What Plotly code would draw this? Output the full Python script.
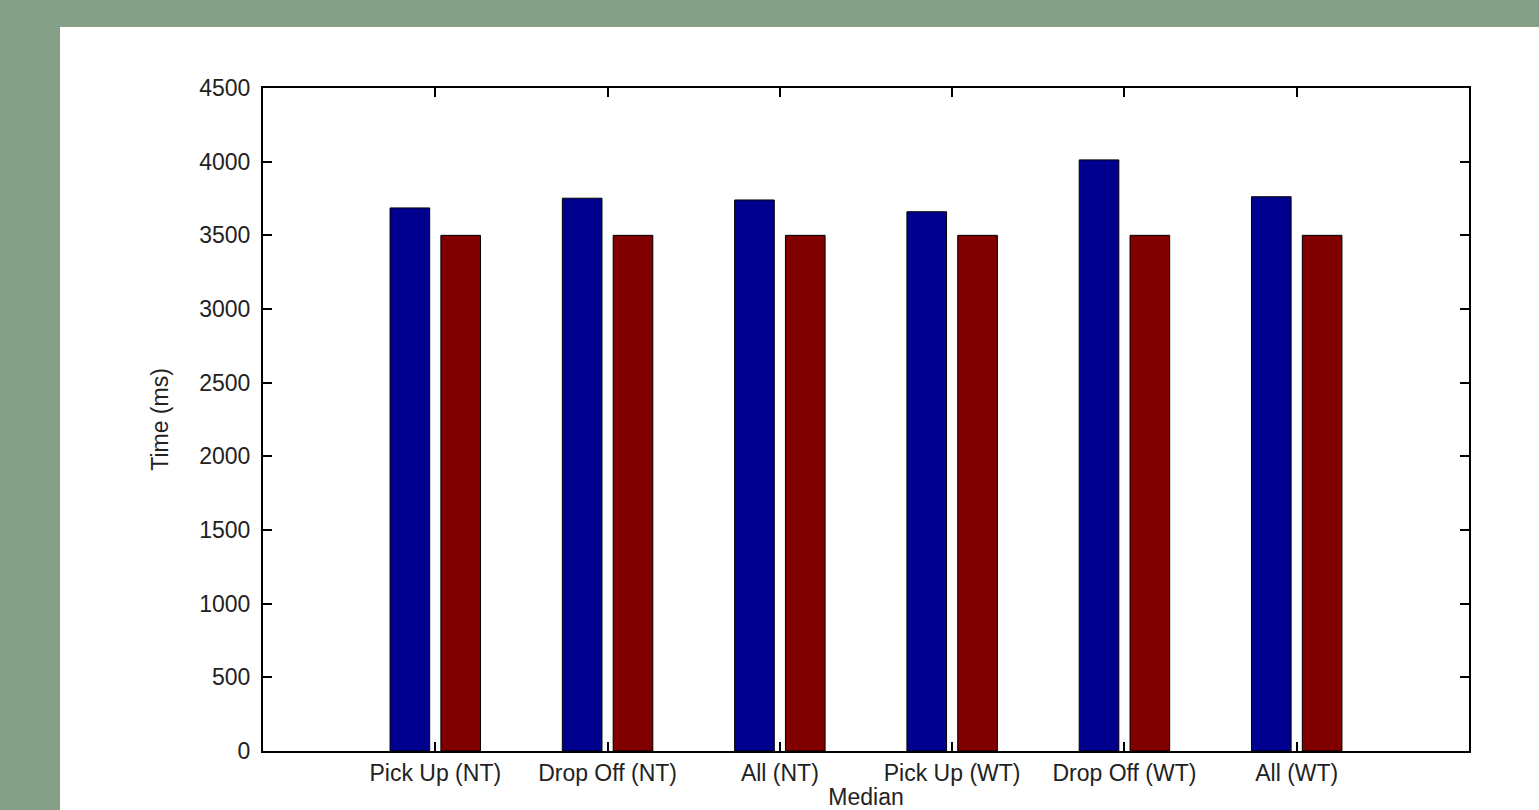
import plotly.graph_objects as go

categories = ["Pick Up (NT)", "Drop Off (NT)", "All (NT)", "Pick Up (WT)", "Drop Off (WT)", "All (WT)"]
positions = [1, 2, 3, 4, 5, 6]
series_blue = [3686, 3752, 3740, 3660, 4012, 3762]
series_red = [3500, 3500, 3500, 3500, 3500, 3500]
y_ticks = [0, 500, 1000, 1500, 2000, 2500, 3000, 3500, 4000, 4500]

FONT = "Liberation Sans, Arial, sans-serif"
W, H = 1539, 810
L, R, T, B = 263, 70, 88, 59
pw, ph = W - L - R, H - T - B

fig = go.Figure()
fig.add_trace(go.Bar(x=positions, y=series_blue, marker=dict(color="#00008f", line=dict(color="#000000", width=1)), showlegend=False))
fig.add_trace(go.Bar(x=positions, y=series_red, marker=dict(color="#800000", line=dict(color="#000000", width=1)), showlegend=False))

# white panel behind the chart
fig.add_shape(type="rect", xref="paper", yref="paper",
              x0=(60 - L) / pw, x1=(W + 10 - L) / pw,
              y0=-(B + 20) / ph, y1=(H - B - 27) / ph,
              fillcolor="white", line=dict(width=0), layer="below")

fig.update_layout(
    width=W, height=H,
    margin=dict(l=L, r=R, t=T, b=B, pad=0),
    paper_bgcolor="#86a087",
    plot_bgcolor="white",
    barmode="group", bargap=0.41, bargroupgap=0.22,
    font=dict(family=FONT, size=23, color="#222222"),
    xaxis=dict(
        range=[0, 7], tickmode="array", tickvals=positions, ticktext=categories,
        showline=True, linecolor="#000000", linewidth=2, mirror="ticks",
        ticks="inside", ticklen=9, tickwidth=1.5, tickcolor="#000000",
        showgrid=False, zeroline=False, automargin=False,
        title=dict(text="Median", standoff=2, font=dict(size=23)),
        tickfont=dict(size=23, family=FONT, color="#222222"),
    ),
    yaxis=dict(
        range=[0, 4500], tickmode="array", tickvals=y_ticks, ticktext=[str(v) for v in y_ticks],
        showline=True, linecolor="#000000", linewidth=2, mirror="ticks",
        ticks="inside", ticklen=9, tickwidth=1.5, tickcolor="#000000",
        showgrid=False, zeroline=False, automargin=False,
        ticklabelstandoff=6,
        title=dict(text="Time (ms)", standoff=24, font=dict(size=23)),
        tickfont=dict(size=23, family=FONT, color="#222222"),
    ),
)

fig.write_html(
    "out.html",
    config={"displayModeBar": False},
    post_script="document.body.style.margin='0';document.body.style.overflow='hidden';",
)
